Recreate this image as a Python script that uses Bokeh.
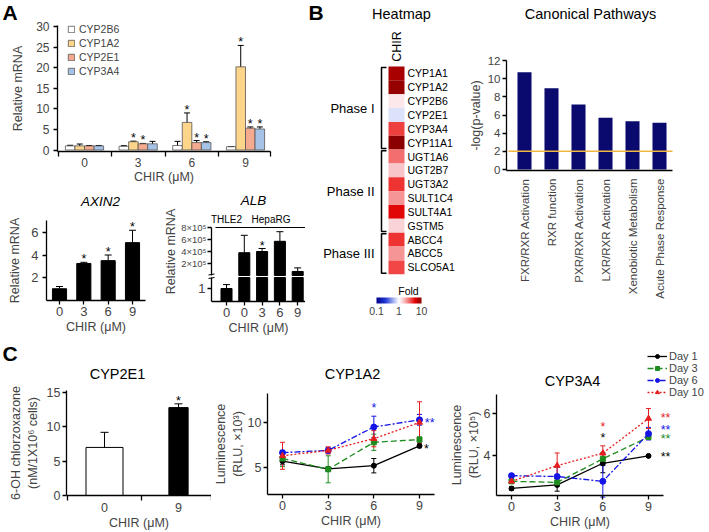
import numpy as np
from bokeh.plotting import figure
from bokeh.layouts import row, column
from bokeh.models import (Range1d, FixedTicker, Whisker, TeeHead, ColumnDataSource, LinearAxis,
                          ColorBar, LogColorMapper, NumeralTickFormatter)
from bokeh.core.properties import value
from bokeh.embed import file_html
from bokeh.resources import INLINE

FONT = "Liberation Sans"

# ---------------- data ----------------
# Panel A (top): relative mRNA of CYP genes vs CHIR
chir_labels = ["0", "3", "6", "9"]
cyp_names = ["CYP2B6", "CYP1A2", "CYP2E1", "CYP3A4"]
cyp2b6 = [1.0, 0.9, 1.1, 0.8]
cyp2b6_err = [0.15, 0.15, 1.0, 0.05]
cyp1a2 = [1.0, 2.0, 6.7, 20.2]
cyp1a2_err = [0.45, 0.15, 2.3, 5.2]
cyp2e1 = [1.0, 1.5, 1.8, 5.3]
cyp2e1_err = [0.1, 0.1, 0.5, 0.3]
cyp3a4 = [1.0, 1.5, 1.8, 5.1]
cyp3a4_err = [0.1, 0.6, 0.2, 0.5]
cyp2b6_sig = [0, 0, 0, 0]
cyp1a2_sig = [0, 1, 1, 1]
cyp2e1_sig = [0, 1, 1, 1]
cyp3a4_sig = [0, 0, 1, 1]

# Panel A: AXIN2
axin2 = [1.0, 3.25, 3.5, 5.1]
axin2_err = [0.2, 0.1, 0.5, 1.1]
axin2_sig = [0, 1, 1, 1]

# Panel A: ALB (broken axis)
alb_cells = ["THLE2", "HepaRG", "HepaRG", "HepaRG", "HepaRG"]
alb_chir = ["0", "0", "3", "6", "9"]
alb = [1.0, 3.8e5, 4.0e5, 5.7e5, 0.67e5]
alb_err = [0.3, 2.9e5, 0.5e5, 1.6e5, 0.6e5]
alb_sig = [0, 0, 1, 0, 0]
alb_upper_ticks = [2e5, 4e5, 6e5, 8e5]
alb_upper_labels = ["2×10⁵", "4×10⁵", "6×10⁵", "8×10⁵"]

# Panel B: heatmap
genes = ["CYP1A1", "CYP1A2", "CYP2B6", "CYP2E1", "CYP3A4", "CYP11A1",
         "UGT1A6", "UGT2B7", "UGT3A2", "SULT1C4", "SULT4A1", "GSTM5",
         "ABCC4", "ABCC5", "SLCO5A1"]
gene_fold = [8.0, 9.0, 1.2, 0.8, 3.6, 10.0,
             2.75, 1.6, 3.9, 2.2, 5.0, 1.45,
             3.9, 2.2, 3.5]
phases = ["Phase I", "Phase II", "Phase III"]
phase_counts = [6, 6, 3]

# Panel B: canonical pathways
pathways = ["FXR/RXR Activation", "RXR function", "PXR/RXR Activation",
            "LXR/RXR Activation", "Xenobiotic Metabolism", "Acute Phase Response"]
pathway_score = [10.7, 8.95, 7.15, 5.7, 5.3, 5.15]
pathway_threshold = 2.0

# Panel C: CYP2E1 activity
chlor_chir = ["0", "9"]
chlor = [7.0, 12.8]
chlor_err = [2.2, 0.55]
chlor_sig = [0, 1]

# Panel C: luminescence time courses
chir = [0, 3, 6, 9]
days = ["Day 1", "Day 3", "Day 6", "Day 10"]
l1a2_d1 = [5.7, 4.85, 5.2, 7.4]
l1a2_d1_err = [0.4, 0.2, 0.8, 0.2]
l1a2_d3 = [6.0, 4.8, 7.8, 8.1]
l1a2_d3_err = [0.9, 1.5, 0.9, 0.3]
l1a2_d6 = [6.65, 6.9, 9.5, 10.3]
l1a2_d6_err = [0.2, 0.3, 1.2, 0.6]
l1a2_d10 = [6.3, 6.9, 8.2, 10.0]
l1a2_d10_err = [1.5, 0.4, 0.9, 2.3]
l1a2_star_x = [6, 9.35, 9.45]
l1a2_star_y = [11.9, 10.3, 7.4]
l1a2_star_txt = ["*", "**", "*"]
l1a2_star_day = [2, 2, 0]

l3a4_d1 = [2.43, 2.6, 3.63, 3.98]
l3a4_d1_err = [0.08, 0.3, 0.45, 0.04]
l3a4_d3 = [2.77, 2.72, 3.84, 4.88]
l3a4_d3_err = [0.06, 0.1, 0.3, 0.1]
l3a4_d6 = [3.04, 3.0, 2.77, 5.04]
l3a4_d6_err = [0.1, 0.45, 0.75, 0.3]
l3a4_d10 = [2.77, 3.52, 4.11, 5.76]
l3a4_d10_err = [0.1, 0.6, 0.35, 0.48]
l3a4_star_x = [6, 6, 9.8, 9.8, 9.8, 9.8]
l3a4_star_y = [5.52, 4.96, 5.92, 5.36, 4.94, 4.08]
l3a4_star_txt = ["*", "*", "**", "**", "**", "**"]
l3a4_star_day = [3, 0, 3, 2, 1, 0]


# ---------------- helpers ----------------
class Geo:
    """Linear page-pixel <-> data mapping for a figure whose frame is its whole canvas."""
    def __init__(s, box, xa, xb, ya, yb):
        s.L, s.T, s.R, s.B = box
        s.kx = (xb[1] - xa[1]) / (xb[0] - xa[0])
        s.ky = (yb[1] - ya[1]) / (yb[0] - ya[0])
        s.xa, s.ya = xa, ya

    def X(s, px):
        return s.xa[1] + (px - s.xa[0]) * s.kx

    def Y(s, py):
        return s.ya[1] + (py - s.ya[0]) * s.ky

    def dy(s, n):
        return -n * s.ky


def mkfig(g, **kw):
    p = figure(width=g.R - g.L, height=g.B - g.T,
               x_range=Range1d(g.X(g.L), g.X(g.R)), y_range=Range1d(g.Y(g.B), g.Y(g.T)),
               output_backend="svg", toolbar_location=None, min_border=0,
               min_border_left=0, min_border_right=0, min_border_top=0, min_border_bottom=0, **kw)
    p.outline_line_color = None
    p.grid.visible = False
    return p


def style_axis(ax, fs="12px", lfs="12.5px"):
    ax.axis_line_width = 1.3
    ax.major_tick_line_width = 1.3
    ax.major_tick_in = 0
    ax.major_tick_out = 4
    ax.minor_tick_line_color = None
    ax.major_label_text_font = FONT
    ax.major_label_text_font_size = fs
    ax.major_label_standoff = 2
    ax.axis_label_text_font = FONT
    ax.axis_label_text_font_size = lfs
    ax.axis_label_text_font_style = "normal"
    ax.axis_label_standoff = 2


def style_axes(p, fs="12px", lfs="12.5px"):
    for ax in list(p.xaxis) + list(p.yaxis):
        style_axis(ax, fs, lfs)


def place_axes(p, g, xline=None, yline=None):
    if xline:
        py, a, b = xline
        p.xaxis.fixed_location = g.Y(py)
        p.xaxis.bounds = (g.X(a), g.X(b))
    if yline:
        px, a, b = yline
        p.yaxis.fixed_location = g.X(px)
        p.yaxis.bounds = (g.Y(a), g.Y(b))


def boundary_ticks(ax, ticks, minor, labels):
    ax.ticker = FixedTicker(ticks=ticks, minor_ticks=minor)
    ax.major_label_overrides = {t: l for t, l in zip(ticks, labels)}
    ax.major_tick_line_color = None
    ax.minor_tick_line_color = "black"
    ax.minor_tick_line_width = 1.3
    ax.minor_tick_in = 0
    ax.minor_tick_out = 5


def txt(p, x, y, t, size, color="black", align="center", baseline="middle", style="normal", angle=0.0):
    p.text(x=[x], y=[y], text=[t], text_font=value(FONT), text_font_size=size, text_color=color,
           text_align=align, text_baseline=baseline, text_font_style=style, angle=angle)


def stars(p, xs, ys, size="12.5px", color="black", yoff=-3, txts=None, align="center"):
    if xs:
        p.text(x=xs, y=ys, text=txts if txts else ["*"] * len(xs), text_align=align,
               text_baseline="middle", text_font=value(FONT), text_font_size=size,
               text_color=color, y_offset=yoff)


def whisker(p, src, color="black", head=6, lower=True, **kw):
    p.add_layout(Whisker(source=src, base="x", upper="hi", lower="lo", line_color=color, line_width=1,
                         upper_head=TeeHead(size=head, line_width=1, line_color=color),
                         lower_head=TeeHead(size=head, line_width=1, line_color=color) if lower else None,
                         **kw))


TOP_H = 335   # height of the upper band (panels A and B)

# ---------------- Panel A top ----------------
gA = Geo((0, 0, 305, 185), (84, 0), (245, 3), (149.5, 0), (26, 30))
pA = mkfig(gA)
style_axes(pA, "12px", "12.5px")
place_axes(pA, gA, xline=(151, 57, 270), yline=(57, 151, 25))
pA.yaxis.ticker = FixedTicker(ticks=[0, 5, 10, 15, 20, 25, 30])
pA.yaxis.axis_label = "Relative mRNA"
pA.yaxis.major_label_standoff = 4
pA.yaxis.axis_label_standoff = 8
pA.xaxis.axis_label = "CHIR (μM)"
pA.xaxis.major_label_standoff = 1
pA.xaxis.axis_label_standoff = 0
boundary_ticks(pA.xaxis[0], [0, 1, 2, 3], [gA.X(57.5), 0.5, 1.5, 2.5, gA.X(269.5)], chir_labels)

bw = 0.178
fills = ["#FFFFFF", "#FCD58A", "#F4AA8E", "#A6C3E7"]
a_series = [(cyp2b6, cyp2b6_err, cyp2b6_sig), (cyp1a2, cyp1a2_err, cyp1a2_sig),
            (cyp2e1, cyp2e1_err, cyp2e1_sig), (cyp3a4, cyp3a4_err, cyp3a4_sig)]
for k, (name, (vals, errs, sig), fc) in enumerate(zip(cyp_names, a_series, fills)):
    xs = [i + (k - 1.5) * bw for i in range(len(vals))]
    src = ColumnDataSource(dict(x=xs, top=vals, lo=[v - e for v, e in zip(vals, errs)],
                                hi=[v + e for v, e in zip(vals, errs)]))
    pA.vbar(x="x", top="top", bottom=0, width=bw, source=src, fill_color=fc,
            line_color="#555555", line_width=0.8, legend_label=name)
    whisker(pA, src, head=6)
    stars(pA, [x for x, s in zip(xs, sig) if s], [v + e for v, e, s in zip(vals, errs, sig) if s])

lg = pA.legend[0]
lg.location = (67, 108)
lg.padding = 0
lg.margin = 0
lg.spacing = 2
lg.label_height = 12
lg.glyph_height = 8
lg.glyph_width = 8
lg.label_standoff = 4
lg.label_text_font = FONT
lg.label_text_font_size = "10.5px"
lg.border_line_color = None
lg.background_fill_alpha = 0
txt(pA, gA.X(2), gA.Y(12), "A", "21px", align="left", style="bold")

# ---------------- AXIN2 ----------------
gX = Geo((0, 185, 150, TOP_H), (59, 0), (132, 3), (299.5, 0), (232, 6))
pX = mkfig(gX)
style_axes(pX, "13px", "12.5px")
place_axes(pX, gX, xline=(300, 46, 145), yline=(46, 300, 220))
pX.yaxis.ticker = FixedTicker(ticks=[2, 4, 6])
pX.yaxis.axis_label = "Relative mRNA"
pX.yaxis.major_label_standoff = 4
pX.yaxis.axis_label_standoff = 6
pX.xaxis.ticker = FixedTicker(ticks=[0, 1, 2, 3])
pX.xaxis.major_label_overrides = {i: l for i, l in enumerate(chir_labels)}
pX.xaxis.axis_label = "CHIR (μM)"
pX.xaxis.axis_label_standoff = 1
xi = list(range(len(axin2)))
srcX = ColumnDataSource(dict(x=xi, top=axin2, lo=axin2, hi=[v + e for v, e in zip(axin2, axin2_err)]))
pX.vbar(x="x", top="top", bottom=0, width=0.58, source=srcX, fill_color="black", line_color="black")
whisker(pX, srcX, head=7, lower=False)
stars(pX, [x for x, s in zip(xi, axin2_sig) if s],
      [v + e for v, e, s in zip(axin2, axin2_err, axin2_sig) if s])
txt(pX, gX.X(100), gX.Y(201), "AXIN2", "13.5px", style="italic")

# ---------------- ALB (broken axis: two y ranges in one plot) ----------------
box_alb = (150, 185, 305, TOP_H)
gU = Geo(box_alb, (226, 0), (297.2, 4), (275, 0), (227, 8e5))   # upper segment (default range)
gLo = Geo(box_alb, (226, 0), (297.2, 4), (301, 0), (288, 1))    # lower segment
pU = mkfig(gU)
pU.extra_y_ranges = {"lower": Range1d(gLo.Y(gLo.B), gLo.Y(gLo.T))}
style_axes(pU, "9.5px", "12.5px")
place_axes(pU, gU, xline=(301, 211, 305), yline=(211, 275, 227))
pU.yaxis.ticker = FixedTicker(ticks=alb_upper_ticks)
pU.yaxis.major_label_overrides = {t: l for t, l in zip(alb_upper_ticks, alb_upper_labels)}
pU.yaxis.axis_label = "Relative mRNA"
pU.yaxis.major_label_standoff = 1
pU.yaxis.axis_label_standoff = 0
ai = list(range(len(alb)))
pU.xaxis.ticker = FixedTicker(ticks=ai)
pU.xaxis.major_label_overrides = {i: l for i, l in zip(ai, alb_chir)}
pU.xaxis.major_label_text_font_size = "13px"
pU.xaxis.axis_label = "CHIR (μM)"
pU.xaxis.axis_label_standoff = 1
low_ax = LinearAxis(y_range_name="lower")
pU.add_layout(low_ax, "left")
style_axis(low_ax, "13px", "12.5px")
low_ax.fixed_location = gU.X(211)
break_top = gLo.Y(277)
low_ax.bounds = (0, break_top)
low_ax.ticker = FixedTicker(ticks=[1])

hep = [i for i, c in enumerate(alb_cells) if c == "HepaRG"]
thl = [i for i, c in enumerate(alb_cells) if c == "THLE2"]
# upper segment
pU.vbar(x=hep, top=[alb[i] for i in hep], bottom=0, width=0.62, fill_color="black", line_color="black")
srcU = ColumnDataSource(dict(x=hep, lo=[alb[i] for i in hep], hi=[alb[i] + alb_err[i] for i in hep]))
whisker(pU, srcU, head=7, lower=False)
stars(pU, [i for i in hep if alb_sig[i]], [alb[i] + alb_err[i] for i in hep if alb_sig[i]])
# lower segment (bars shown up to the axis break)
pU.vbar(x=ai, top=[min(v, break_top) for v in alb], bottom=0, width=0.62, fill_color="black",
        line_color="black", y_range_name="lower")
srcL = ColumnDataSource(dict(x=thl, lo=[alb[i] for i in thl], hi=[alb[i] + alb_err[i] for i in thl]))
whisker(pU, srcL, head=7, lower=False, y_range_name="lower")
# break marks on the axis
pU.segment(x0=[gU.X(208)] * 2, y0=[gU.Y(274.5), gU.Y(278)], x1=[gU.X(214)] * 2,
           y1=[gU.Y(273.5), gU.Y(277)], line_color="black", line_width=1)
for cell in ["THLE2", "HepaRG"]:
    idx = [i for i, c in enumerate(alb_cells) if c == cell]
    x0, x1 = min(idx) - 0.62, max(idx) + 0.62
    pU.segment(x0=[x0], y0=[alb_upper_ticks[-1]], x1=[x1], y1=[alb_upper_ticks[-1]],
               line_color="black", line_width=1)
    txt(pU, (min(idx) + max(idx)) / 2, alb_upper_ticks[-1] + gU.dy(8), cell, "10px")
txt(pU, gU.X(253), gU.Y(200), "ALB", "13.5px", style="italic")

# ---------------- Heatmap ----------------
anchors = [(0.0, "#00008B"), (0.2, "#2038D8"), (0.4, "#B8C4F2"), (0.5, "#FFFFFF"),
           (0.6, "#F8C8CC"), (0.7, "#F48080"), (0.8, "#EE3030"), (0.86, "#E00000"), (1.0, "#8B0000")]


def h2rgb(h):
    return [int(h[i:i + 2], 16) for i in (1, 3, 5)]


palette = []
for t in np.linspace(0, 1, 256):
    for (a, ca), (b, cb) in zip(anchors[:-1], anchors[1:]):
        if a <= t <= b:
            f = (t - a) / (b - a)
            c = [int(round(u + (v - u) * f)) for u, v in zip(h2rgb(ca), h2rgb(cb))]
            break
    palette.append("#%02x%02x%02x" % tuple(c))
mapper = LogColorMapper(palette=palette, low=0.1, high=10)

gH = Geo((305, 0, 470, TOP_H), (388, 0), (404, 1), (66, 0), (79.85, 1))
hm = mkfig(gH, x_axis_location=None, y_axis_location=None)
rows = [i + 0.5 for i in range(len(genes))]
srcH = ColumnDataSource(dict(x=[0.5] * len(genes), y=rows, fold=gene_fold, gene=genes))
hm.rect(x="x", y="y", width=1, height=1, source=srcH,
        fill_color={"field": "fold", "transform": mapper}, line_color=None)
hm.text(x=gH.X(407), y="y", text="gene", source=srcH, text_align="left", text_baseline="middle",
        text_font=value(FONT), text_font_size="10.5px")
start = 0
bx, by = [], []
for ph, n in zip(phases, phase_counts):
    end = start + n
    bx.append([gH.X(386), gH.X(381), gH.X(381), gH.X(386)])
    by.append([start + 0.08, start + 0.08, end - 0.08, end - 0.08])
    txt(hm, gH.X(374), (start + end) / 2, ph, "13px", align="right")
    start = end
hm.multi_line(xs=bx, ys=by, line_color="black", line_width=1.5)
txt(hm, 0.5, gH.Y(46), "CHIR", "12.5px", angle=np.pi / 2)
txt(hm, gH.X(401), gH.Y(13), "Heatmap", "14.5px")
txt(hm, gH.X(308), gH.Y(12), "B", "21px", align="left", style="bold")
txt(hm, gH.X(408), gH.Y(290), "Fold", "10.5px")
cb = ColorBar(color_mapper=mapper, orientation="horizontal", width=45, height=6,
              location=(71, 15 + TOP_H - 332),
              padding=0, ticker=FixedTicker(ticks=[0.1, 1, 10]),
              formatter=NumeralTickFormatter(format="0.[0]"), major_tick_line_color=None,
              major_label_text_font=FONT, major_label_text_font_size="10.5px", label_standoff=3,
              bar_line_color=None, background_fill_alpha=0, border_line_color=None)
hm.add_layout(cb)

# ---------------- Canonical pathways ----------------
gP = Geo((470, 0, 708, TOP_H), (524, 0), (659, 5), (169, 0), (60, 12))
pw = mkfig(gP)
style_axes(pw, "11.5px", "12.5px")
place_axes(pw, gP, xline=(170, 506, 672), yline=(506, 170, 60))
pw.yaxis.ticker = FixedTicker(ticks=[0, 2, 4, 6, 8, 10, 12])
pw.yaxis.axis_label = "-log(p-value)"
pw.yaxis.axis_label_standoff = 2
pi_ = list(range(len(pathways)))
pw.xaxis.ticker = FixedTicker(ticks=pi_)
pw.xaxis.major_label_overrides = {i: l for i, l in zip(pi_, pathways)}
pw.xaxis.major_label_orientation = np.pi / 2
pw.xaxis.major_tick_line_color = None
pw.xaxis.major_label_standoff = 4
pw.vbar(x=pi_, top=pathway_score, bottom=0, width=0.52, fill_color="#0A0A6E", line_color=None)
pw.segment(x0=[gP.X(508)], y0=[pathway_threshold], x1=[gP.X(672)], y1=[pathway_threshold],
           line_color="#F0B840", line_width=1.5)
txt(pw, gP.X(590), gP.Y(13), "Canonical Pathways", "14.5px")

# ---------------- Panel C: CYP2E1 ----------------
gC1 = Geo((0, TOP_H, 211, 530), (104, 0), (178, 1), (495, 0), (392, 15))
pC1 = mkfig(gC1)
style_axes(pC1, "12.5px", "12.5px")
place_axes(pC1, gC1, xline=(495, 66, 211), yline=(66, 495, 390))
pC1.yaxis.ticker = FixedTicker(ticks=[0, 5, 10, 15])
pC1.yaxis.axis_label = "6-OH chlorzoxazone\n(nM/1X10⁶ cells)"
pC1.yaxis.axis_label_standoff = 4
pC1.xaxis.axis_label = "CHIR (μM)"
pC1.xaxis.axis_label_standoff = 1
boundary_ticks(pC1.xaxis[0], [0, 1], [gC1.X(66.5), 0.5, gC1.X(210.5)], chlor_chir)
srcC = ColumnDataSource(dict(x=[0, 1], top=chlor, lo=[v - e for v, e in zip(chlor, chlor_err)],
                             hi=[v + e for v, e in zip(chlor, chlor_err)]))
pC1.vbar(x=[0], top=[chlor[0]], bottom=0, width=0.5, fill_color="white", line_color="black", line_width=1)
pC1.vbar(x=[1], top=[chlor[1]], bottom=0, width=0.26, fill_color="black", line_color="black")
whisker(pC1, srcC, head=8)
stars(pC1, [i for i in (0, 1) if chlor_sig[i]], [chlor[i] + chlor_err[i] for i in (0, 1) if chlor_sig[i]])
txt(pC1, gC1.X(117), gC1.Y(373), "CYP2E1", "14.5px")
txt(pC1, gC1.X(2), gC1.Y(353), "C", "21px", align="left", style="bold")

# ---------------- Panel C: luminescence ----------------
day_colors = ["#000000", "#1E8C1E", "#1414E6", "#E61E1E"]
day_dash = ["solid", "6 3", "6 2 2 2", "2 2"]
day_marker = ["circle", "square", "circle", "triangle"]


def lum_panel(p, series, legend):
    for k, (vals, errs) in enumerate(series):
        src = ColumnDataSource(dict(x=chir, y=vals, lo=[v - e for v, e in zip(vals, errs)],
                                    hi=[v + e for v, e in zip(vals, errs)]))
        kw = dict(legend_label=days[k]) if legend else {}
        p.line("x", "y", source=src, line_color=day_colors[k], line_dash=day_dash[k], line_width=1.3, **kw)
        p.scatter("x", "y", source=src, marker=day_marker[k], size=5 if k < 2 else 6,
                  fill_color=day_colors[k], line_color=day_colors[k], **kw)
        whisker(p, src, color=day_colors[k], head=5)


def lum_stars(p, xs, ys, txts, dk):
    for x, y, t, d in zip(xs, ys, txts, dk):
        stars(p, [x], [y], color=day_colors[d], yoff=3, txts=[t], align="center" if t == "*" else "left")


def lum_axes(p, g, xline, yline, yticks, ylabel):
    style_axes(p, "12.5px", "12.5px")
    place_axes(p, g, xline=xline, yline=yline)
    p.yaxis.ticker = FixedTicker(ticks=yticks)
    p.yaxis.axis_label = ylabel
    p.yaxis.axis_label_standoff = 0
    p.xaxis.ticker = FixedTicker(ticks=chir)
    p.xaxis.axis_label = "CHIR (μM)"
    p.xaxis.axis_label_standoff = 1


gC2 = Geo((211, TOP_H, 446, 530), (282, 0), (419, 9), (467, 5), (422, 10))
pC2 = mkfig(gC2)
lum_axes(pC2, gC2, (494, 267, 434), (267, 494, 393), [5, 10], "Luminescence\n(RLU, ×10³)")
lum_panel(pC2, [(l1a2_d1, l1a2_d1_err), (l1a2_d3, l1a2_d3_err), (l1a2_d6, l1a2_d6_err),
                (l1a2_d10, l1a2_d10_err)], False)
lum_stars(pC2, l1a2_star_x, l1a2_star_y, l1a2_star_txt, l1a2_star_day)
txt(pC2, gC2.X(352), gC2.Y(373), "CYP1A2", "14.5px")

gC3 = Geo((446, TOP_H, 708, 530), (511, 0), (648, 9), (455, 4), (413, 6))
pC3 = mkfig(gC3)
lum_axes(pC3, gC3, (495, 496, 663), (496, 495, 394), [4, 6], "Luminescence\n(RLU, ×10⁵)")
lum_panel(pC3, [(l3a4_d1, l3a4_d1_err), (l3a4_d3, l3a4_d3_err), (l3a4_d6, l3a4_d6_err),
                (l3a4_d10, l3a4_d10_err)], True)
lum_stars(pC3, l3a4_star_x, l3a4_star_y, l3a4_star_txt, l3a4_star_day)
txt(pC3, gC3.X(572), gC3.Y(380), "CYP3A4", "14.5px")
lg3 = pC3.legend[0]
lg3.location = (201, 132)
lg3.padding = 0
lg3.margin = 0
lg3.spacing = 0
lg3.label_height = 12
lg3.glyph_height = 10
lg3.glyph_width = 20
lg3.label_standoff = 2
lg3.label_text_font = FONT
lg3.label_text_font_size = "11px"
lg3.border_line_color = None
lg3.background_fill_alpha = 0

# ---------------- layout ----------------
colA = column(pA, row(pX, pU))
layout = column(row(colA, column(hm), column(pw)), row(pC1, pC2, pC3))
open("out.html", "w").write(file_html(layout, INLINE))
